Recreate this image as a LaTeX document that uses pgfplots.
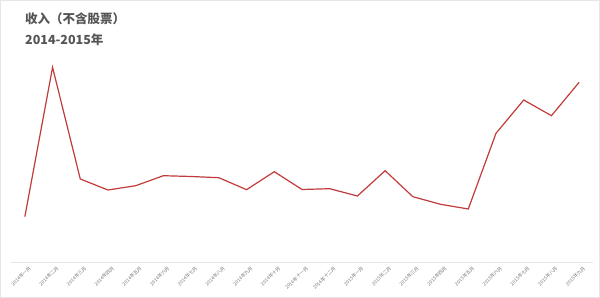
\documentclass[border=0pt]{standalone}
\usepackage{pgfplots}
\pgfplotsset{compat=1.18}
\usepackage{fontspec}
\setmainfont{Noto Sans CJK SC}
\definecolor{linered}{HTML}{C23B3B}
\definecolor{titlegray}{HTML}{555555}
\definecolor{labelgray}{HTML}{777777}
\definecolor{framegray}{HTML}{E6E6E6}
\begin{document}
\begin{tikzpicture}
\useasboundingbox (0,0) rectangle (600bp,298bp);
\draw[framegray, line width=1bp] (0.5bp,0.5bp) rectangle (599.5bp,297.5bp);
\node[anchor=base west, font=\fontsize{12.5bp}{14bp}\selectfont\bfseries, text=titlegray, inner sep=0pt] at (25bp,274bp) {收入（不含股票）};
\node[anchor=base west, font=\fontsize{12.5bp}{14bp}\selectfont\bfseries, text=titlegray, inner sep=0pt] at (25bp,253bp) {2014-2015年};
\begin{axis}[
  at={(11bp,36bp)}, anchor=south west,
  scale only axis,
  width=582bp, height=212bp,
  xmin=-0.5, xmax=20.5, ymin=0, ymax=212,
  axis x line*=bottom, axis y line=none,
  x axis line style={framegray, line width=1bp, -},
  xtick={0,...,20},
  major tick length=0pt,
  xticklabels={2014年一月,2014年二月,2014年三月,2014年四月,2014年五月,2014年六月,2014年七月,2014年八月,2014年九月,2014年十月,2014年十一月,2014年十二月,2015年一月,2015年二月,2015年三月,2015年四月,2015年五月,2015年六月,2015年七月,2015年八月,2015年九月},
  x tick label style={rotate=45, anchor=north east, font=\fontsize{4.8bp}{5bp}\selectfont, text=labelgray, inner sep=0pt, yshift=-5bp},
  clip=false,
]
\addplot[linered, line width=1.2bp, mark=none] coordinates {
(0,45.3) (1,194.7) (2,83) (3,72) (4,76.3) (5,86.3) (6,85.5) (7,84.3)
(8,72.3) (9,90.3) (10,72.5) (11,73.3) (12,66) (13,91.3) (14,65.3)
(15,57.7) (16,53) (17,128.7) (18,162) (19,146.3) (20,179.7)
};
\end{axis}
\end{tikzpicture}
\end{document}
